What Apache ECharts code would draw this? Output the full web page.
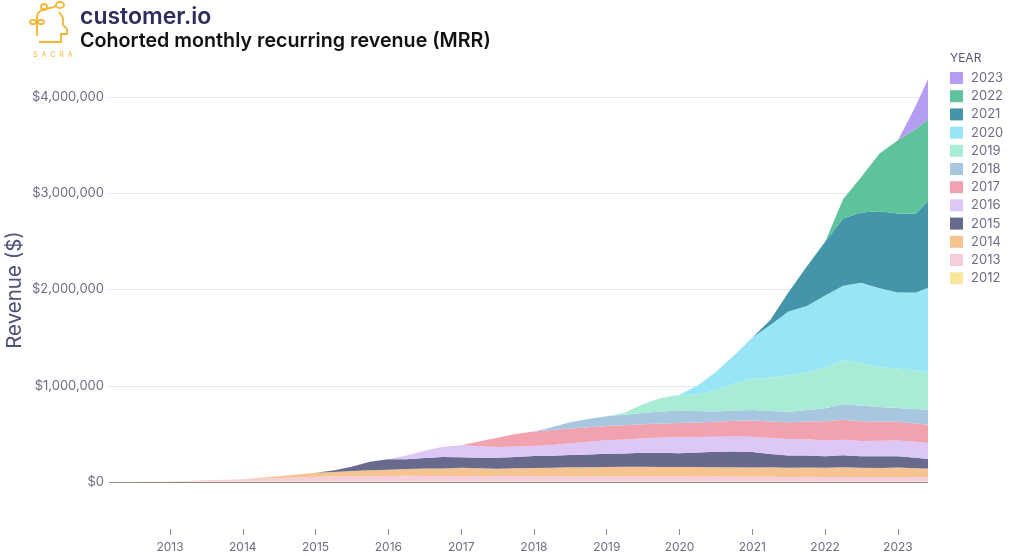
<!DOCTYPE html>
<html>
<head>
<meta charset="utf-8">
<script src="https://cdn.jsdelivr.net/npm/echarts@6/dist/echarts.min.js"></script>
<style>html,body{margin:0;padding:0;background:#fff}#c{width:1010px;height:556px}</style>
</head>
<body>
<div id="c"></div>
<script>
// ---- data (values in thousands of $) ----
const dates = ['2012-03','2012-07','2012-10',
  '2013-01','2013-04','2013-07','2013-10',
  '2014-01','2014-04','2014-07','2014-10',
  '2015-01','2015-04','2015-07','2015-10',
  '2016-01','2016-04','2016-07','2016-10',
  '2017-01','2017-04','2017-07','2017-10',
  '2018-01','2018-04','2018-07','2018-10',
  '2019-01','2019-04','2019-07','2019-10',
  '2020-01','2020-04','2020-07','2020-10',
  '2021-01','2021-04','2021-07','2021-10',
  '2022-01','2022-04','2022-07','2022-10',
  '2023-01','2023-04','2023-06'];
const years = ['2012','2013','2014','2015','2016','2017','2018','2019','2020','2021','2022','2023'];
const c2012 = [0,1,2, 3,4,5,5, 5,5,6,6, 6,6,6,6, 6,6,6,6, 6,6,6,6, 6,6,6,6, 6,6,6,6, 6,6,6,6, 6,6,6,6, 6,6,6,6, 6,6,6];
const c2013 = [0,0,0, 1,6,12,18, 24,30,36,42, 48,50,52,55, 56,58,56,55, 57,55,54,56, 55,53,54,52, 53,52,50,52, 50,49,50,48, 49,48,47,48, 46,47,46,45, 46,45,44];
const c2014 = [0,0,0, 0,0,0,0, 0,8,18,30, 42,48,55,60, 65,72,78,80, 85,82,78,80, 85,88,92,95, 98,100,102,98, 100,102,98,100, 96,98,95,97, 95,100,97,95, 98,92,90];
const c2015 = [0,0,0, 0,0,0,0, 0,0,0,0, 0,15,45,90, 110,100,110,120, 108,110,114,118, 124,126,128,132, 136,138,146,148, 142,150,160,162, 160,140,128,125, 120,125,118,122, 118,110,100];
const c2016 = [0,0,0, 0,0,0,0, 0,0,0,0, 0,0,0,0, 0,40,75,105, 125,118,112,108, 105,112,122,132, 140,145,150,158, 168,160,156,158, 160,165,170,168, 165,160,158,160, 162,165,165];
const c2017 = [0,0,0, 0,0,0,0, 0,0,0,0, 0,0,0,0, 0,0,0,0, 0,50,95,130, 150,155,155,152, 150,148,146,145, 146,150,155,162, 168,172,175,185, 200,210,205,200, 195,190,190];
const c2018 = [0,0,0, 0,0,0,0, 0,0,0,0, 0,0,0,0, 0,0,0,0, 0,0,0,0, 0,30,65,85, 100,110,118,125, 130,120,108,108, 110,108,110,120, 135,160,165,150, 145,150,155];
const c2019 = [0,0,0, 0,0,0,0, 0,0,0,0, 0,0,0,0, 0,0,0,0, 0,0,0,0, 0,0,0,0, 0,20,90,140, 160,175,220,280, 320,350,375,390, 420,460,440,420, 410,400,390];
const c2020 = [0,0,0, 0,0,0,0, 0,0,0,0, 0,0,0,0, 0,0,0,0, 0,0,0,0, 0,0,0,0, 0,0,0,0, 5,90,190,290, 433,545,665,690, 750,770,835,815, 790,810,877];
const c2021 = [0,0,0, 0,0,0,0, 0,0,0,0, 0,0,0,0, 0,0,0,0, 0,0,0,0, 0,0,0,0, 0,0,0,0, 0,0,0,0, 0,50,200,410, 560,700,730,800, 820,820,900];
const c2022 = [0,0,0, 0,0,0,0, 0,0,0,0, 0,0,0,0, 0,0,0,0, 0,0,0,0, 0,0,0,0, 0,0,0,0, 0,0,0,0, 0,0,0,0, 0,200,370,600, 760,880,850];
const c2023 = [0,0,0, 0,0,0,0, 0,0,0,0, 0,0,0,0, 0,0,0,0, 0,0,0,0, 0,0,0,0, 0,0,0,0, 0,0,0,0, 0,0,0,0, 0,0,0,0, 0,240,420];
const cohortValues = [c2012,c2013,c2014,c2015,c2016,c2017,c2018,c2019,c2020,c2021,c2022,c2023];
const firstTickYear = 2013, lastTickYear = 2023;

// ---- styles ----
const palette = ['#fbe79c','#f7cddc','#f6c490','#676a8d','#dcc7f7','#f2a1ae','#a7c7e1','#a9ecd6','#97e5f5','#4495a9','#5ec39b','#b49df2'];
const labelColor = '#6c6d86';
const font = 'Inter, "Noto Sans", sans-serif';

function toTime(s){ const p = s.split('-').map(Number); return Date.UTC(p[0], p[1]-1, 1); }

const W = 1010, gridLeft = 109, gridRight = 82;
const tMin = toTime(dates[0]), tMax = toTime(dates[dates.length-1]);
const pxPerMs = (W - gridLeft - gridRight) / (tMax - tMin);
// second grid carrying only the year ticks, aligned with the data grid's time scale
const tickLeft = gridLeft + (Date.UTC(firstTickYear,0,1) - tMin) * pxPerMs;
const tickRight = gridRight + (tMax - Date.UTC(lastTickYear,0,1)) * pxPerMs;

const chart = echarts.init(document.getElementById('c'), null, {renderer:'canvas'});

const series = years.map((yr, i) => ({
  name: yr, type: 'line', stack: 'mrr', symbol: 'none', showSymbol: false,
  xAxisIndex: 0, yAxisIndex: 0,
  color: palette[i],
  lineStyle: {width: 0},
  areaStyle: {opacity: 1, color: palette[i]},
  itemStyle: {color: palette[i]},
  emphasis: {disabled: true},
  data: dates.map((d, j) => [toTime(d), cohortValues[i][j] * 1000])
}));

const logoColor = '#f3b431';
const option = {
  animation: false,
  useUTC: true,
  grid: [
    {left: gridLeft, right: gridRight, top: 0.75, bottom: 74},
    {left: tickLeft, right: tickRight, top: 528, height: 1}
  ],
  xAxis: [
    {gridIndex: 0, type: 'time', min: tMin, max: tMax,
      axisLine: {show: false}, axisTick: {show: false}, axisLabel: {show: false}, splitLine: {show: false}},
    {gridIndex: 1, type: 'value', min: firstTickYear, max: lastTickYear, interval: 1, position: 'bottom',
      axisLine: {show: false}, splitLine: {show: false},
      axisTick: {show: true, length: 6, lineStyle: {color: '#8d8e9e'}},
      axisLabel: {formatter: v => String(Math.round(v)), margin: 12, color: labelColor, fontSize: 12, fontFamily: font}}
  ],
  yAxis: [
    {gridIndex: 0, type: 'value', min: 0, max: 5000000, interval: 1000000,
      axisLine: {show: false}, axisTick: {show: false},
      splitLine: {lineStyle: {color: ['#968b7b','#e6e6ec','#e6e6ec','#e6e6ec','#e6e6ec','rgba(0,0,0,0)'], width: 1}},
      axisLabel: {margin: 5, color: labelColor, fontSize: 13, fontFamily: font,
        formatter: v => v >= 5000000 ? '' : '$' + v.toLocaleString('en-US')}},
    {gridIndex: 1, type: 'value', show: false}
  ],
  legend: {
    orient: 'vertical', left: 950, top: 71.5, padding: 0, itemWidth: 13, itemHeight: 12, itemGap: 5.2, icon: 'rect',
    textStyle: {fontSize: 13, color: labelColor, fontFamily: font, padding: [0,0,0,3]},
    data: years.slice().reverse(),
    selectedMode: false
  },
  graphic: [
    {type: 'text', x: 80, y: 17, style: {text: 'customer.io', font: '600 23px Inter, sans-serif', fill: '#2f2c5e', align: 'left', verticalAlign: 'middle'}},
    {type: 'text', x: 80, y: 41, style: {text: 'Cohorted monthly recurring revenue (MRR)', font: '600 19.7px Inter, sans-serif', fill: '#111111', align: 'left', verticalAlign: 'middle'}},
    {type: 'text', x: 950, y: 58.5, style: {text: 'YEAR', font: '12px Inter, sans-serif', fill: '#55566e', align: 'left', verticalAlign: 'middle'}},
    {type: 'text', x: 15, y: 290, rotation: Math.PI/2, style: {text: 'Revenue ($)', font: '20.5px Inter, sans-serif', fill: '#4f5178', align: 'center', verticalAlign: 'middle'}},
    {type: 'polyline', shape: {points: [[39,42],[61,42],[61,34],[67,34],[67,29],[63,25],[63,18],[59,12]]}, style: {stroke: logoColor, lineWidth: 1.8, fill: null}},
    {type: 'polyline', shape: {points: [[37,36],[37,16]]}, style: {stroke: logoColor, lineWidth: 1.8, fill: null}},
    {type: 'bezierCurve', shape: {x1: 37, y1: 16, x2: 56, y2: 6, cpx1: 40, cpy1: 6, cpx2: 50, cpy2: 10}, style: {stroke: logoColor, lineWidth: 1.8, fill: null}},
    {type: 'circle', shape: {cx: 44, cy: 7, r: 3}, style: {stroke: logoColor, lineWidth: 1.8, fill: null}},
    {type: 'ellipse', shape: {cx: 60, cy: 5, rx: 4, ry: 3}, style: {stroke: logoColor, lineWidth: 1.8, fill: null}},
    {type: 'ellipse', shape: {cx: 33, cy: 22, rx: 3, ry: 2.2}, style: {stroke: logoColor, lineWidth: 1.8, fill: null}},
    {type: 'ellipse', shape: {cx: 41, cy: 22, rx: 3, ry: 2.2}, style: {stroke: logoColor, lineWidth: 1.8, fill: null}},
    {type: 'text', x: 33, y: 55, style: {text: 'S  A  C  R  A', font: '7px Inter, sans-serif', fill: logoColor, align: 'left', verticalAlign: 'middle'}}
  ],
  series: series
};
chart.setOption(option);
</script>
</body>
</html>
